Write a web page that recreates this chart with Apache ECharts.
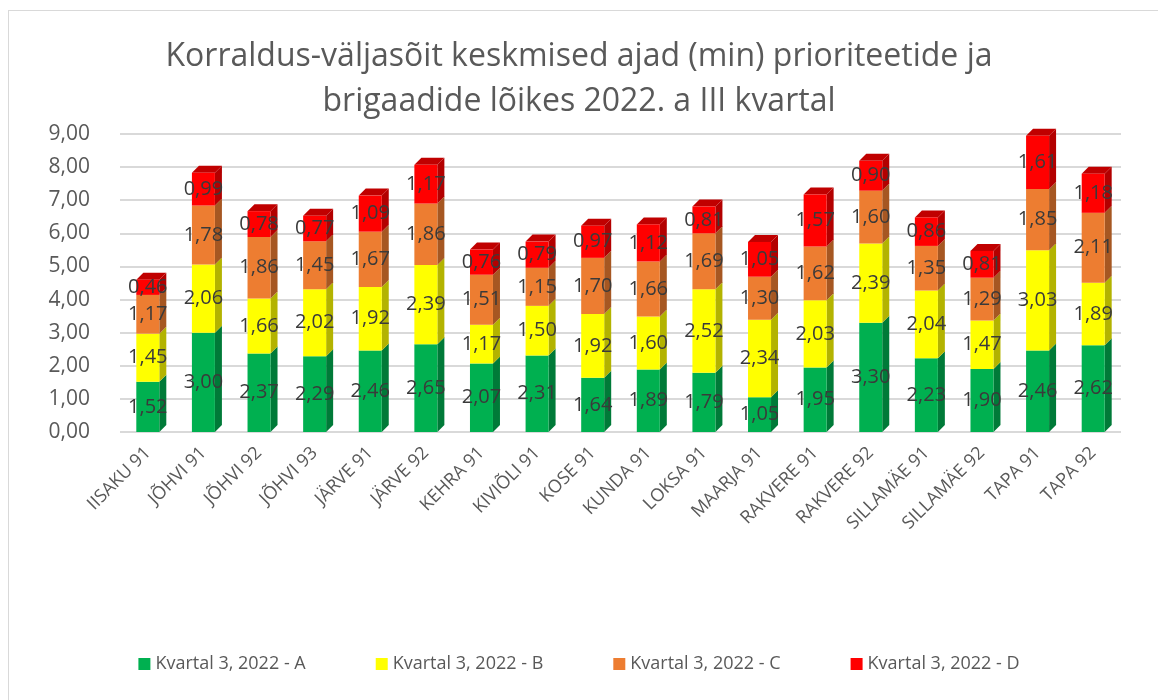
<!DOCTYPE html>
<html><head><meta charset="utf-8">
<script src="https://cdn.jsdelivr.net/npm/echarts@6/dist/echarts.min.js"></script>
<style>
html,body{margin:0;padding:0;background:#fff;overflow:hidden;}
#frame{position:absolute;left:8px;top:10px;width:1170px;height:710px;border:1px solid #D9D9D9;box-sizing:border-box;}
#c{position:absolute;left:0;top:0;width:1158px;height:700px;}
</style></head>
<body><div id="frame"></div><div id="c"></div>
<script>
var categories = ['IISAKU 91','JÕHVI 91','JÕHVI 92','JÕHVI 93','JÄRVE 91','JÄRVE 92','KEHRA 91','KIVIÕLI 91','KOSE 91','KUNDA 91','LOKSA 91','MAARJA 91','RAKVERE 91','RAKVERE 92','SILLAMÄE 91','SILLAMÄE 92','TAPA 91','TAPA 92'];
var seriesNames = ['Kvartal 3, 2022 - A','Kvartal 3, 2022 - B','Kvartal 3, 2022 - C','Kvartal 3, 2022 - D'];
var valuesA = [1.52,3.00,2.37,2.29,2.46,2.65,2.07,2.31,1.64,1.89,1.79,1.05,1.95,3.30,2.23,1.90,2.46,2.62];
var valuesB = [1.45,2.06,1.66,2.02,1.92,2.39,1.17,1.50,1.92,1.60,2.52,2.34,2.03,2.39,2.04,1.47,3.03,1.89];
var valuesC = [1.17,1.78,1.86,1.45,1.67,1.86,1.51,1.15,1.70,1.66,1.69,1.30,1.62,1.60,1.35,1.29,1.85,2.11];
var valuesD = [0.46,0.99,0.78,0.77,1.09,1.17,0.76,0.79,0.97,1.12,0.81,1.05,1.57,0.90,0.86,0.81,1.61,1.18];
var yTicks = [0,1,2,3,4,5,6,7,8,9];

var allVals = [valuesA, valuesB, valuesC, valuesD];
var colors = ['#00B050','#FFFF00','#ED7D31','#FF0000'];
var sideColors = ['#007A38','#B3B300','#A65722','#B30000'];
var topColors = ['#33C070','#E6E600','#D46A20','#C00000'];
var BW = 23, DX = 7, DY = 7;
function fmt(v){ return v.toFixed(2).replace('.', ','); }

var barSeries = allVals.map(function(vals, k){
  return {
    name: seriesNames[k], type: 'bar', stack: 'tot', barWidth: BW, z: 3,
    itemStyle: {color: colors[k]},
    label: {show: true, position: 'inside', color: '#3A3A3A', fontSize: 20,
      fontFamily: 'Open Sans', formatter: function(p){ return fmt(p.value); }},
    data: vals
  };
});

var sideSeries = {
  type: 'custom', z: 2, silent: true,
  data: categories.map(function(c, i){ return [i]; }),
  renderItem: function(params, api){
    var i = api.value(0);
    var children = [];
    var base = 0;
    for (var k = 0; k < allVals.length; k++){
      var v = allVals[k][i];
      var p0 = api.coord([i, base]);
      var p1 = api.coord([i, base + v]);
      var xr = p0[0] + BW/2;
      children.push({type:'polygon', shape:{points:[[xr,p0[1]],[xr+DX,p0[1]-DY],[xr+DX,p1[1]-DY],[xr,p1[1]]]},
        style:{fill: sideColors[k]}});
      base += v;
      if (k === allVals.length - 1){
        var xl = p1[0] - BW/2;
        children.push({type:'polygon', shape:{points:[[xl,p1[1]],[xl+DX,p1[1]-DY],[xr+DX,p1[1]-DY],[xr,p1[1]]]},
          style:{fill: topColors[k]}});
      }
    }
    return {type:'group', children: children};
  }
};

var chart = echarts.init(document.getElementById('c'));
chart.setOption({
  animation: false,
  title: {text: 'Korraldus-väljasõit keskmised ajad (min) prioriteetide ja\nbrigaadide lõikes 2022. a III kvartal',
    left: 'center', top: 29, textStyle:{fontFamily:'Open Sans', fontWeight: 400, fontSize: 32, color:'#595959', lineHeight: 45}},
  legend: {data: seriesNames, bottom: 22, left: 'center', itemWidth: 12, itemHeight: 12, itemGap: 70, icon: 'rect',
    textStyle:{fontFamily:'Open Sans', fontSize: 18, color:'#595959'}},
  grid: {left: 120, right: 37, top: 134, bottom: 268},
  xAxis: {type: 'category', data: categories,
    axisLine:{show:false}, axisTick:{show:false},
    axisLabel:{rotate: 45, interval: 0, fontFamily:'Open Sans', fontSize: 18, color:'#595959', margin: 18}},
  yAxis: {type: 'value', min: yTicks[0], max: yTicks[yTicks.length-1], interval: 1,
    axisLabel:{formatter: fmt, fontFamily:'Open Sans', fontSize: 21, color:'#595959', margin: 30},
    splitLine:{lineStyle:{color:'#D9D9D9', width: 2}}},
  series: barSeries.concat([sideSeries])
});
</script></body></html>
